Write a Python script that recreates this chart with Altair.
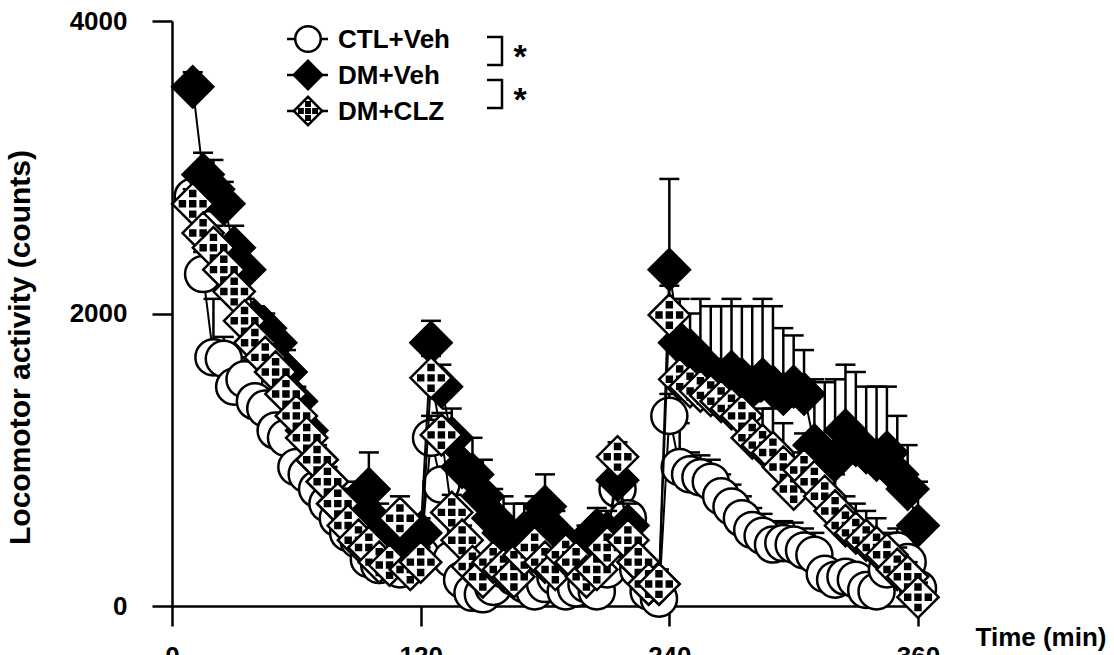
import altair as alt
import pandas as pd

FONT = "Liberation Sans"

series_names = ["CTL+Veh", "DM+Veh", "DM+CLZ"]
# sampling times (min), per 120-min phase
time_p1 = list(range(10, 121, 5))
time_p2 = list(range(125, 236, 5))
time_p3 = list(range(240, 361, 5))
time_min = time_p1 + time_p2 + time_p3

ctl_mean = ([2800, 2270, 1700, 1690, 1500, 1550, 1400, 1350, 1200, 1150, 950, 900,
             800, 700, 600, 500, 450, 320, 280, 300, 250, 300, 350]
            + [1150, 830, 320, 180, 90, 80, 130, 250, 200, 150, 100, 150,
               200, 100, 120, 150, 100, 250, 800, 600, 250, 100, 50]
            + [1300, 950, 900, 880, 850, 750, 680, 600, 520, 480, 420, 430, 420,
               380, 350, 220, 180, 200, 180, 110, 100, 250, 380, 300, 120])
ctl_sem = ([100, 150, 400, 150, 150, 150, 100, 100, 100, 100, 100, 100,
            100, 100, 100, 100, 100, 100, 100, 100, 100, 100, 100]
           + [150, 100, 80, 60, 50, 50, 50, 60, 60, 50, 50, 50,
              50, 50, 50, 50, 50, 80, 100, 100, 80, 50, 50]
           + [150, 300, 150, 150, 150, 150, 150, 150, 150, 150, 150, 150, 150,
              150, 150, 100, 100, 100, 100, 100, 100, 150, 150, 100, 100])

dmv_mean = ([3550, 2950, 2850, 2750, 2450, 2300, 1950, 1900, 1800, 1600, 1400, 1200,
             1000, 850, 700, 650, 700, 800, 550, 450, 400, 450, 500]
            + [1800, 1500, 1150, 950, 900, 750, 600, 500, 450, 500, 550, 680,
               500, 350, 350, 400, 520, 500, 860, 550, 300, 150, 150]
            + [2300, 1800, 1750, 1650, 1600, 1550, 1600, 1550, 1500, 1550, 1500, 1450, 1500,
               1450, 1100, 1030, 1000, 1200, 1100, 1050, 1000, 1050, 900, 800, 550])
dmv_sem = ([100, 150, 200, 150, 150, 150, 100, 100, 100, 150, 100, 100,
            150, 100, 100, 150, 150, 250, 150, 150, 100, 100, 100]
           + [150, 150, 200, 200, 250, 250, 200, 250, 250, 200, 200, 220,
              150, 150, 150, 150, 150, 150, 150, 150, 150, 100, 100]
           + [620, 300, 250, 450, 450, 500, 500, 500, 550, 550, 550, 450, 350,
              300, 450, 500, 550, 450, 500, 450, 500, 450, 400, 300, 300])

clz_mean = ([2750, 2550, 2450, 2300, 2150, 1950, 1800, 1700, 1600, 1450, 1300, 1150,
             1000, 850, 700, 550, 450, 400, 300, 280, 600, 250, 300]
            + [1560, 1170, 640, 450, 270, 200, 300, 250, 200, 350, 400, 300,
               250, 350, 300, 200, 250, 400, 1020, 450, 300, 150, 150]
            + [1990, 1550, 1500, 1470, 1440, 1400, 1350, 1300, 1150, 1100, 1050, 950, 800,
               930, 850, 750, 650, 550, 500, 450, 400, 350, 250, 200, 60])
clz_sem = ([100, 150, 150, 150, 150, 150, 150, 150, 100, 100, 100, 100,
            100, 100, 100, 100, 100, 100, 100, 100, 150, 150, 100]
           + [150, 150, 120, 100, 80, 80, 80, 80, 80, 80, 80, 80,
              80, 80, 80, 80, 80, 80, 100, 100, 80, 60, 60]
           + [200, 200, 250, 250, 250, 250, 250, 250, 250, 250, 300, 300, 250,
              250, 250, 250, 250, 200, 200, 200, 200, 150, 150, 100, 100])


def _dot(cx, cy):
    # two nested squares: their strokes merge into one solid dark dot
    o, i = 0.12, 0.04
    return (f"M{cx - o},{cy - o}h{2 * o}v{2 * o}h{-2 * o}Z"
            f"M{cx - i},{cy - i}h{2 * i}v{2 * i}h{-2 * i}Z")


# checkered diamond: outline plus inner dots drawn by the stroke
CHECK_DIAMOND = "M-1,0L0,-1L1,0L0,1Z" + "".join(
    _dot(cx, cy) for cx, cy in [(0, 0), (0.5, 0), (-0.5, 0), (0, 0.5), (0, -0.5)])

styles = {
    "CTL+Veh": dict(shape="circle", fill="white", size=1300),
    "DM+Veh": dict(shape="diamond", fill="black", size=1700),
    "DM+CLZ": dict(shape=CHECK_DIAMOND, fill="white", size=1700),
}
legend_sizes = {"CTL+Veh": 650, "DM+Veh": 800, "DM+CLZ": 800}

means = {"CTL+Veh": ctl_mean, "DM+Veh": dmv_mean, "DM+CLZ": clz_mean}
sems = {"CTL+Veh": ctl_sem, "DM+Veh": dmv_sem, "DM+CLZ": clz_sem}

x_axis = alt.Axis(values=[0, 120, 240, 360], title="Time (min)", grid=False, format="d",
                  labelFont=FONT, labelFontWeight="bold", labelFontSize=26,
                  labelColor="black", labelPadding=17, labelFlush=False,
                  labelOverlap=False, tickSize=20, tickWidth=2.5, tickColor="black",
                  domainWidth=2.5, domainColor="black", titleFont=FONT,
                  titleFontWeight="bold", titleFontSize=26, titleColor="black",
                  titleX=803, titleY=31, titleAlign="left", titleBaseline="middle")
y_axis = alt.Axis(values=[0, 2000, 4000], title="Locomotor activity (counts)", grid=False,
                  format="d",
                  labelFont=FONT, labelFontWeight="bold", labelFontSize=26,
                  labelColor="black", labelPadding=25, labelFlush=False,
                  tickSize=20, tickWidth=2.5, tickColor="black",
                  domainWidth=2.5, domainColor="black", titleFont=FONT,
                  titleFontWeight="bold", titleFontSize=30, titleColor="black",
                  titleX=-152, titleY=326, titleAngle=270, titleAlign="center",
                  titleBaseline="middle")

x_enc = alt.X("time:Q", scale=alt.Scale(domain=[0, 360], nice=False, zero=False), axis=x_axis)
y_scale = alt.Scale(domain=[0, 4000], nice=False)
y_enc = alt.Y("mean:Q", scale=y_scale, axis=y_axis)

layers = []
for name in series_names:
    m, s = means[name], sems[name]
    df = pd.DataFrame({"time": time_min, "mean": m,
                       "upper": [a + b for a, b in zip(m, s)], "series": name})
    base = alt.Chart(df)
    st = styles[name]
    layers.append(base.mark_rule(color="black", strokeWidth=2.5).encode(
        x=x_enc, y=y_enc, y2="upper:Q"))
    layers.append(base.mark_tick(orient="horizontal", size=20, thickness=2.5,
                                 color="black", opacity=1).encode(
        x=x_enc, y=alt.Y("upper:Q", scale=y_scale, axis=y_axis)))
    layers.append(base.mark_line(color="black", strokeWidth=2).encode(
        x=x_enc, y=y_enc, order="time:Q"))
    layers.append(base.mark_point(shape=st["shape"], size=st["size"], filled=True,
                                  fill=st["fill"], stroke="black", strokeWidth=2.5,
                                  opacity=1).encode(x=x_enc, y=y_enc))

# legend (drawn manually to reproduce the line-through-marker style)
LEFT, TOP = 172, 21
row_y = [39, 75, 111]
for i, name in enumerate(series_names):
    ldf = pd.DataFrame({"label": [name]})
    lb = alt.Chart(ldf)
    yy = row_y[i] - TOP
    layers.append(lb.mark_rule(color="black", strokeWidth=2.5).encode(
        x=alt.value(287 - LEFT), x2=alt.value(328 - LEFT), y=alt.value(yy)))
    st = styles[name]
    layers.append(lb.mark_point(shape=st["shape"], size=legend_sizes[name], filled=True,
                                fill=st["fill"], stroke="black", strokeWidth=2.5,
                                opacity=1).encode(x=alt.value(308 - LEFT), y=alt.value(yy)))
    layers.append(lb.mark_text(font=FONT, fontWeight="bold", fontSize=26, color="black",
                               align="left", baseline="alphabetic").encode(
        x=alt.value(338 - LEFT), y=alt.value(yy + 9), text="label:N"))

# significance brackets
brk = alt.Chart(pd.DataFrame({"mark": ["*"]}))
for top, bot in [(37, 65), (80, 108)]:
    layers.append(brk.mark_rule(color="black", strokeWidth=2.5).encode(
        x=alt.value(487 - LEFT), x2=alt.value(502 - LEFT), y=alt.value(top - TOP)))
    layers.append(brk.mark_rule(color="black", strokeWidth=2.5).encode(
        x=alt.value(487 - LEFT), x2=alt.value(502 - LEFT), y=alt.value(bot - TOP)))
    layers.append(brk.mark_rule(color="black", strokeWidth=2.5).encode(
        x=alt.value(502 - LEFT), y=alt.value(top - TOP - 1.2), y2=alt.value(bot - TOP + 1.2)))
    layers.append(brk.mark_text(font=FONT, fontWeight="bold", fontSize=34, color="black",
                                align="center", baseline="alphabetic").encode(
        x=alt.value(520 - LEFT), y=alt.value((top + bot) / 2 - TOP + 17), text="mark:N"))

chart = alt.layer(*layers).properties(
    width=746, height=585,
    padding={"left": LEFT, "top": TOP, "right": 196, "bottom": 49},
    autosize=alt.AutoSizeParams(type="none"),
    background="white",
).configure_view(stroke=None)

chart.save("out.html", embed_options={"renderer": "svg", "actions": False})
